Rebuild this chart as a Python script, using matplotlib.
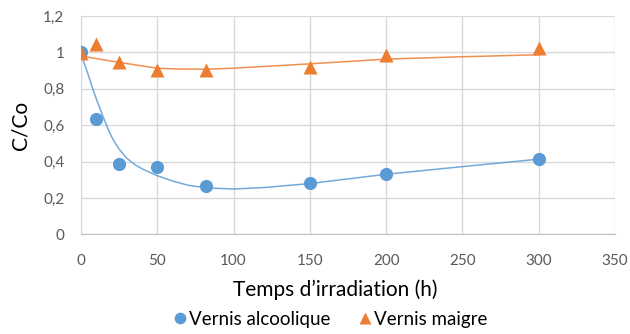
import numpy as np
import matplotlib
matplotlib.use("Agg")
import matplotlib.pyplot as plt
from matplotlib.lines import Line2D
from matplotlib.ticker import FuncFormatter, MultipleLocator

t_alcoolique = [0, 10, 25, 50, 82, 150, 200, 300]
c_alcoolique = [1.0, 0.636, 0.385, 0.372, 0.266, 0.28, 0.33, 0.413]
t_maigre = [0, 10, 25, 50, 82, 150, 200, 300]
c_maigre = [0.996, 1.047, 0.948, 0.905, 0.905, 0.922, 0.987, 1.024]
labels = ["Vernis alcoolique", "Vernis maigre"]

# Trend curves
trend_t_alcoolique = [0, 2.5, 5, 7.5, 10, 12.5, 15, 17.5, 20, 22.5, 25, 30, 35, 40, 50, 60, 70, 82,
                      100, 120, 150, 200, 250, 300]
trend_c_alcoolique = [0.996, 0.93, 0.87, 0.805, 0.745, 0.69, 0.635, 0.583, 0.537, 0.5, 0.468, 0.418,
                      0.385, 0.36, 0.322, 0.293, 0.27, 0.255, 0.249, 0.257, 0.279, 0.33, 0.372, 0.413]
trend_t_maigre = [0, 10, 25, 50, 65, 83, 100, 150, 200, 250, 300]
trend_c_maigre = [0.981, 0.966, 0.945, 0.913, 0.908, 0.908, 0.913, 0.937, 0.963, 0.976, 0.987]

blue = "#5B9BD5"
orange = "#ED7D31"
grid_c = "#D9D9D9"
txt_c = "#595959"

plt.rcParams['font.family'] = ['Lato', 'DejaVu Sans']

fig = plt.figure(figsize=(6.3, 3.34), dpi=100)
ax = fig.add_axes([81/630, 1-234.3/334, (615-81)/630, (234.3-16)/334])

ax.plot(trend_t_alcoolique, trend_c_alcoolique, color=blue, lw=1.1, alpha=0.85, zorder=2,
        solid_joinstyle='round')
ax.plot(trend_t_maigre, trend_c_maigre, color=orange, lw=1.1, alpha=0.85, zorder=2,
        solid_joinstyle='round')

ax.plot(t_alcoolique, c_alcoolique, 'o', color=blue, ms=9.5, mec='none', zorder=3)
ax.plot(t_maigre, c_maigre, '^', color=orange, ms=9.5, mec='none', zorder=3)

ax.set_xlim(0, 350)
ax.set_ylim(0, 1.2)
ax.xaxis.set_major_locator(MultipleLocator(50))
ax.yaxis.set_major_locator(MultipleLocator(0.2))
fmt = lambda v, p: ("%g" % round(v, 1)).replace('.', ',')
ax.yaxis.set_major_formatter(FuncFormatter(fmt))
ax.grid(True, color=grid_c, lw=1.0, zorder=0)
ax.set_axisbelow(True)
for s in ['top', 'right']:
    ax.spines[s].set_visible(False)
ax.spines['left'].set_color(grid_c)
ax.spines['bottom'].set_color('#BFBFBF')
ax.tick_params(length=0, labelsize=11, colors=txt_c)
ax.tick_params(axis='x', pad=14)
ax.tick_params(axis='y', pad=12)

ax.set_ylabel("C/Co", fontsize=15, color='black', labelpad=9)
fig.text(335/630, 1-290/334, "Temps d\u2019irradiation (h)", fontsize=15,
         ha='center', va='center', color='black')

handles = [Line2D([], [], marker='o', ls='none', color=blue, ms=8.4, mec='none'),
           Line2D([], [], marker='^', ls='none', color=orange, ms=8.4, mec='none')]
fig.legend(handles, labels, loc='center', bbox_to_anchor=(329/630, 1-319/334),
           ncol=2, frameon=False, fontsize=13.5, handletextpad=0.0,
           columnspacing=1.35, handlelength=1.0, labelcolor='black',
           borderaxespad=0, borderpad=0)

fig.savefig("out.png", dpi=100)
